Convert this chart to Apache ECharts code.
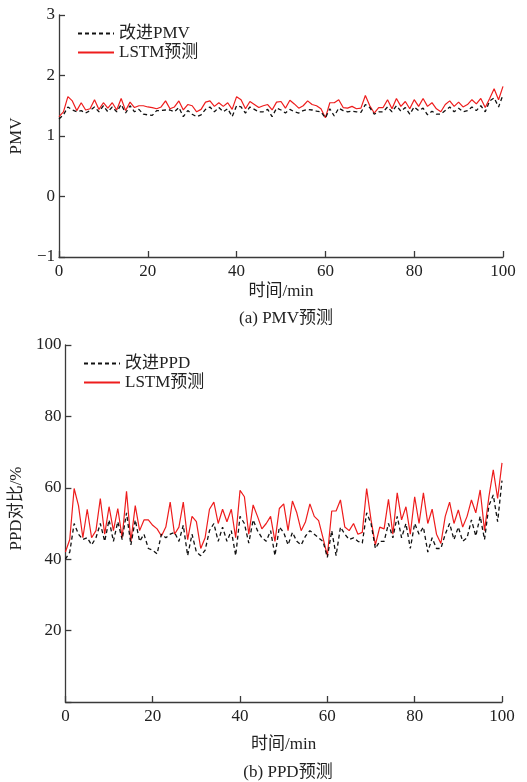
<!DOCTYPE html>
<html lang="zh">
<head>
    <meta charset="UTF-8">
    <title>PMV / PPD 预测</title>
    <script src="https://cdn.jsdelivr.net/npm/echarts@6/dist/echarts.min.js"></script>
    <style>
        html, body { margin: 0; padding: 0; background: #fff; }
        #main { width: 527px; height: 782px; }
    </style>
</head>
<body>
<div id="main"></div>
<script type="text/javascript">
    // 时间 0..100 min，每分钟一个点
    var minutes = [];
    for (var i = 0; i <= 100; i++) minutes.push(i);

    var xTicks = [0, 20, 40, 60, 80, 100];
    var pmvTicks = [-1, 0, 1, 2, 3];
    var ppdTicks = [20, 40, 60, 80, 100];

    var pmvNames = ['改进PMV', 'LSTM预测'];
    var ppdNames = ['改进PPD', 'LSTM预测 '];

    // 改进PMV (黑色虚线)
    var pmvImproved = [1.28,1.35,1.48,1.43,1.40,1.42,1.38,1.42,1.48,1.40,1.50,1.40,1.48,1.40,1.52,1.38,1.50,1.40,1.44,1.36,
        1.35,1.34,1.42,1.42,1.43,1.43,1.40,1.47,1.32,1.42,1.36,1.32,1.35,1.44,1.48,1.40,1.47,1.40,1.45,1.32,
        1.50,1.48,1.38,1.48,1.44,1.40,1.40,1.44,1.32,1.46,1.43,1.38,1.44,1.40,1.38,1.42,1.44,1.43,1.41,1.40,
        1.30,1.45,1.33,1.46,1.42,1.40,1.41,1.40,1.39,1.52,1.47,1.36,1.40,1.40,1.48,1.40,1.50,1.41,1.47,1.36,
        1.48,1.42,1.46,1.35,1.41,1.36,1.36,1.42,1.48,1.40,1.46,1.40,1.42,1.48,1.42,1.50,1.40,1.58,1.63,1.48,1.68];
    // LSTM预测 PMV (红色实线)
    var pmvLstm = [1.32,1.40,1.65,1.58,1.42,1.55,1.43,1.45,1.60,1.44,1.55,1.46,1.55,1.43,1.62,1.42,1.56,1.47,1.50,1.50,
        1.48,1.47,1.45,1.48,1.58,1.45,1.48,1.58,1.43,1.52,1.50,1.40,1.44,1.56,1.58,1.49,1.55,1.49,1.55,1.44,
        1.65,1.60,1.45,1.57,1.52,1.47,1.50,1.52,1.43,1.56,1.57,1.46,1.59,1.53,1.46,1.50,1.58,1.52,1.50,1.45,
        1.30,1.55,1.55,1.60,1.47,1.46,1.49,1.45,1.46,1.67,1.50,1.38,1.47,1.47,1.60,1.45,1.62,1.49,1.57,1.45,
        1.60,1.49,1.62,1.49,1.55,1.45,1.40,1.52,1.58,1.49,1.56,1.48,1.52,1.60,1.53,1.62,1.47,1.62,1.78,1.60,1.82];

    // 改进PPD (黑色虚线)
    var ppdImproved = [40,42,50,47,45.5,46,44,46,50,45,51,45,50.5,45.5,53,44,51,45,47,43,
        42.5,41.5,47,46,47,47.5,45,49.5,41,47,42,41,42.5,48,50,45,49,45,48,41,
        52,50,44.5,51,48,46,45,48,41,49,47.5,44,47.5,45,44,46.5,48,47,46,45,
        40.5,48,41,49,47,45.5,46,45,44.5,53,50,43,45,45,50,46,52,46,50,43,
        50,47,49,42,46,43,43,47,50,45.5,49,45,46,51,46.5,52,45.5,55,58,50.5,62];
    // LSTM预测 PPD (红色实线)
    var ppdLstm = [42,45.5,59.8,55,46,54,46,48,57,47,54.7,48,54.2,46,59,45,55,48,51,51,
        49.5,48.5,46.5,49,56,47,49,56,45.5,52,50.5,43,46,54,56,50,54,50.5,54,46,
        59.3,57.5,47,55.2,52,48.5,50,52,45,54.2,55.5,48,56.3,53,48,50.5,55.5,52,50.8,46,
        41,53.5,53.5,56.6,49,48,50,47,47.5,59.8,51,44,49,48.5,56.8,47,58.6,51,54.7,47,
        57.5,50,58.6,50,54,47,44.4,52,56,50,53.8,49,52,56.6,53,59.4,48,57.5,65,57,67];

    function pairs(vals) {
        return minutes.map(function (t, k) { return [t, vals[k]]; });
    }

    var serif = '"Liberation Serif", "Times New Roman", "Noto Sans CJK SC", serif';
    var axisColor = '#3a3a3a';
    var txt = { color: '#222', fontFamily: serif, fontSize: 17 };

    function xAxisOf(gridIndex, gap) {
        return {
            type: 'value', gridIndex: gridIndex, min: 0, max: 100, interval: 20,
            name: '时间/min', nameLocation: 'middle', nameGap: gap,
            nameTextStyle: txt,
            axisLine: { show: true, onZero: false, lineStyle: { color: axisColor, width: 1.3 } },
            axisTick: { show: true, inside: true, length: 6, lineStyle: { color: axisColor, width: 1.3 } },
            axisLabel: { color: '#222', fontFamily: serif, fontSize: 17, margin: 6,
                formatter: function (v) { return xTicks.indexOf(v) >= 0 ? String(v) : ''; } },
            splitLine: { show: false }
        };
    }

    function yAxisOf(gridIndex, min, max, name, gap, ticks, namePad) {
        return {
            type: 'value', gridIndex: gridIndex, min: min, max: max, interval: min < 0 ? 1 : 20,
            name: name, nameLocation: 'middle', nameGap: gap, nameRotate: 90,
            nameTextStyle: { color: '#222', fontFamily: serif, fontSize: 17, padding: namePad },
            axisLine: { show: true, onZero: false, lineStyle: { color: axisColor, width: 1.3 } },
            axisTick: { show: true, inside: true, length: 6, lineStyle: { color: axisColor, width: 1.3 } },
            axisLabel: { color: '#222', fontFamily: serif, fontSize: 17, margin: 4,
                formatter: function (v) {
                    if (ticks.indexOf(v) < 0) return '';
                    return String(v).replace('-', '\u2212');
                } },
            splitLine: { show: false }
        };
    }

    function lineSeries(name, xi, yi, vals, dashed) {
        return {
            name: name, type: 'line', xAxisIndex: xi, yAxisIndex: yi,
            data: pairs(vals), symbol: 'none', animation: false,
            lineStyle: dashed ? { color: '#111', width: 1.3, type: [4, 3] } : { color: '#ee1c1c', width: 1.2 },
            itemStyle: { color: dashed ? '#111' : '#ee1c1c' },
            z: dashed ? 3 : 2
        };
    }

    function legendOf(names, left, top) {
        return {
            data: names, orient: 'vertical', left: left, top: top,
            itemWidth: 36, itemHeight: 10, itemGap: 2,
            itemStyle: { opacity: 0 },
            textStyle: { color: '#222', fontFamily: serif, fontSize: 17 }
        };
    }

    var chart = echarts.init(document.getElementById('main'));
    var option = {
        animation: false,
        backgroundColor: '#fff',
        title: [
            { text: '(a) PMV预测', left: 281, top: 305, textAlign: 'center',
              textStyle: { color: '#222', fontFamily: serif, fontSize: 17, fontWeight: 'normal' } },
            { text: '(b) PPD预测', left: 283, top: 759, textAlign: 'center',
              textStyle: { color: '#222', fontFamily: serif, fontSize: 17, fontWeight: 'normal' } }
        ],
        legend: [
            legendOf(pmvNames, 72, 20),
            legendOf(ppdNames, 78, 350)
        ],
        grid: [
            { left: 58, right: 24, top: 15, height: 242 },
            { left: 64, right: 25, top: 345, height: 357 }
        ],
        xAxis: [xAxisOf(0, 26), xAxisOf(1, 34)],
        yAxis: [
            yAxisOf(0, -1, 3, 'PMV', 34, pmvTicks, 0),
            yAxisOf(1, 0, 100, 'PPD对比/%', 38, ppdTicks, [0, 0, 0, 30])
        ],
        series: [
            lineSeries(pmvNames[0], 0, 0, pmvImproved, true),
            lineSeries(pmvNames[1], 0, 0, pmvLstm, false),
            lineSeries(ppdNames[0], 1, 1, ppdImproved, true),
            lineSeries(ppdNames[1], 1, 1, ppdLstm, false)
        ]
    };
    chart.setOption(option);
</script>
</body>
</html>
